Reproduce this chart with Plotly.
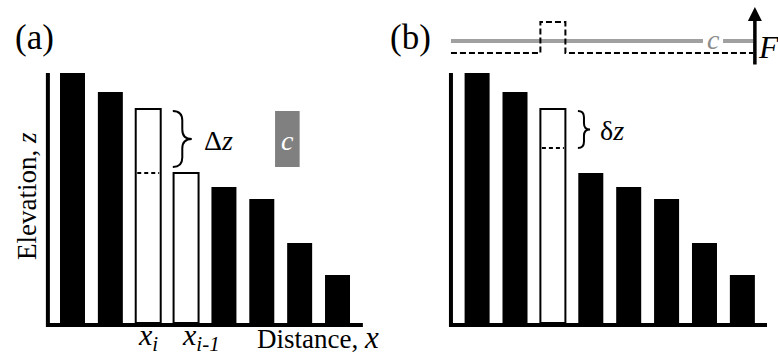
import plotly.graph_objects as go

# ---------------- data ----------------
positions = [1, 2, 3, 4, 5, 6, 7, 8]
elevation = [25.0, 23.1, 21.4, 15.0, 13.6, 12.4, 8.0, 4.8]
open_a = [3, 4]          # x_i and x_{i-1} (hollow bars in panel a)
open_b = [3]             # x_i (hollow bar in panel b)
lowered_b = 17.5         # z_i - delta z in panel b
tick_labels = ["<i>x</i><sub><i>i</i></sub>", "<i>x</i><sub><i>i-1</i></sub>"]

FONT = "Liberation Serif, Times New Roman, serif"
BAR_W = 0.66

fig = go.Figure()


def bar_trace(xaxis, hollow):
    cols = ["white" if p in hollow else "black" for p in positions]
    lw = [2 if p in hollow else 0 for p in positions]
    return go.Bar(x=positions, y=elevation, width=BAR_W, xaxis=xaxis, yaxis="y",
                  marker=dict(color=cols, line=dict(color="black", width=lw)),
                  hoverinfo="skip")


fig.add_trace(bar_trace("x", open_a))
fig.add_trace(bar_trace("x2", open_b))

# L-shaped axes
fig.add_trace(go.Scatter(x=[0.35, 0.35, 8.67], y=[elevation[0], -0.2, -0.2], mode="lines",
                         xaxis="x", yaxis="y", line=dict(color="black", width=4), hoverinfo="skip"))
fig.add_trace(go.Scatter(x=[0.31, 0.31, 8.65], y=[elevation[0], -0.2, -0.2], mode="lines",
                         xaxis="x2", yaxis="y", line=dict(color="black", width=4), hoverinfo="skip"))

# dashed lines inside hollow bars
fig.add_trace(go.Scatter(x=[open_a[0] - BAR_W / 2 + 0.04, open_a[0] + BAR_W / 2 - 0.04],
                         y=[elevation[positions.index(open_a[1])]] * 2, mode="lines",
                         xaxis="x", yaxis="y", line=dict(color="black", width=2, dash="4px,3px"),
                         hoverinfo="skip"))
fig.add_trace(go.Scatter(x=[open_b[0] - BAR_W / 2 + 0.04, open_b[0] + BAR_W / 2 - 0.04],
                         y=[lowered_b] * 2, mode="lines",
                         xaxis="x2", yaxis="y", line=dict(color="black", width=2, dash="4px,3px"),
                         hoverinfo="skip"))

# top schematic in panel b: grey line with gap for 'c'
fig.add_trace(go.Scatter(x=[0.31, 6.96, None, 7.49, 8.28], y=[28.2, 28.2, None, 28.2, 28.2],
                         mode="lines", xaxis="x2", yaxis="y",
                         line=dict(color="#a0a0a0", width=4), hoverinfo="skip"))
xb = open_b[0]
fig.add_trace(go.Scatter(x=[0.31, xb - BAR_W / 2, xb - BAR_W / 2, xb + BAR_W / 2, xb + BAR_W / 2, 8.28],
                         y=[27.0, 27.0, 30.1, 30.1, 27.0, 27.0], mode="lines",
                         xaxis="x2", yaxis="y",
                         line=dict(color="black", width=2, dash="6px,3px"), hoverinfo="skip"))


def brace_path(x0, w, yt, yb):
    xm = x0 + w / 2
    ym = (yt + yb) / 2
    r = 0.17 * (yt - yb)
    return (f"M {x0},{yt} Q {xm},{yt} {xm},{yt - r} L {xm},{ym + r} "
            f"Q {xm},{ym} {x0 + w},{ym} Q {xm},{ym} {xm},{ym - r} "
            f"L {xm},{yb + r} Q {xm},{yb} {x0},{yb}")


za = elevation[positions.index(open_a[0])]
zb = elevation[positions.index(open_a[1])]
fig.add_shape(type="path", xref="x", yref="y",
              path=brace_path(3.65, 0.5, za - 0.2, zb + 0.6),
              line=dict(color="black", width=2))
fig.add_shape(type="path", xref="x2", yref="y",
              path=brace_path(3.66, 0.32, za - 0.2, lowered_b),
              line=dict(color="black", width=2))

# grey box 'c'
fig.add_shape(type="rect", xref="x", yref="y", x0=6.35, x1=7.0, y0=zb + 0.6, y1=za - 0.2,
              fillcolor="#808080", line=dict(width=0))


def note(x, y, text, size, color="black", xref="x", yref="y", xanchor="center", **kw):
    return dict(x=x, y=y, xref=xref, yref=yref, text=text, showarrow=False,
                xanchor=xanchor, yanchor="middle",
                font=dict(family=FONT, size=size, color=color), **kw)


ann = []
ann.append(note(6.67, (za + zb) / 2 + 0.1, "<i>c</i>", 28, "white"))
ann.append(note(4.85, 18.3, "Δ<i>z</i>", 28))
ann.append(note(4.55, 19.3, "δ<i>z</i>", 28, xref="x2"))
ann.append(note(7.23, 28.4, "<i>c</i>", 28, "#8c8c8c", xref="x2"))
ann.append(note(8.68, 27.6, "<i>F</i>", 32, xref="x2"))
# arrow F
ann.append(dict(x=8.33, y=31.6, ax=8.33, ay=25.7, xref="x2", yref="y", axref="x2", ayref="y",
                text="", showarrow=True, arrowhead=2, arrowsize=0.8, arrowwidth=3.5,
                arrowcolor="black"))
# panel letters
ann.append(note(34 / 778, 1 - 38 / 363, "(a)", 35, xref="paper", yref="paper"))
ann.append(note(411 / 778, 1 - 38 / 363, "(b)", 35, xref="paper", yref="paper"))
# axis titles
ann.append(note(27 / 778, 1 - 196 / 363, "Elevation, <i>z</i>", 27, xref="paper", yref="paper",
                textangle=-90))
ann.append(note(9.15, -1.4, "Distance, <span style='font-size:31px'><i>x</i></span>", 27,
                xanchor="right"))
# tick labels at hollow bars
ann.append(note(open_a[0], -1.4, tick_labels[0], 30))
ann.append(note(open_a[1], -1.4, tick_labels[1], 30, xanchor="left", xshift=-6))

fig.update_layout(
    width=778, height=363, margin=dict(l=0, r=0, t=0, b=0),
    paper_bgcolor="white", plot_bgcolor="white", showlegend=False,
    barmode="overlay",
    xaxis=dict(domain=[0, 0.5], range=[-0.915, 9.36], visible=False),
    xaxis2=dict(domain=[0.5, 1], range=[-1.325, 8.94], visible=False, anchor="y"),
    yaxis=dict(domain=[0, 1], range=[-4.0, 32.3], visible=False),
    annotations=ann,
)

fig.write_html("out.html")
